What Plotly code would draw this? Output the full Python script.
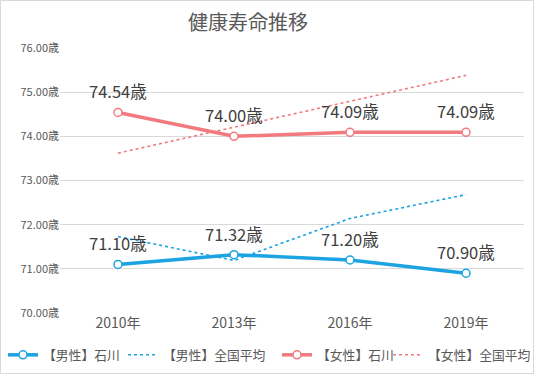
import plotly.graph_objects as go

years = ["2010年", "2013年", "2016年", "2019年"]
male_ishikawa = [71.10, 71.32, 71.20, 70.90]
male_national = [71.73, 71.19, 72.14, 72.68]
female_ishikawa = [74.54, 74.00, 74.09, 74.09]
female_national = [73.62, 74.21, 74.79, 75.38]
y_ticks = [70, 71, 72, 73, 74, 75, 76]

BLUE = "#1BA3E2"
PINK = "#F27A7E"
FONT = "Noto Sans CJK JP"

L, R, T, B = 60, 10, 48, 61
W, H = 534, 374
pw, ph = W - L - R, H - T - B

fig = go.Figure()
fig.add_trace(go.Scatter(x=years, y=male_ishikawa, name="【男性】石川", mode="lines+markers",
                         line=dict(color=BLUE, width=3.5), legend="legend",
                         marker=dict(size=8, color="white", line=dict(color=BLUE, width=1.5))))
fig.add_trace(go.Scatter(x=years, y=male_national, name="【男性】全国平均", mode="lines",
                         legend="legend2", line=dict(color=BLUE, width=1.6, dash="dot")))
fig.add_trace(go.Scatter(x=years, y=female_ishikawa, name="【女性】石川", mode="lines+markers",
                         line=dict(color=PINK, width=3.5), legend="legend3",
                         marker=dict(size=8, color="white", line=dict(color=PINK, width=1.5))))
fig.add_trace(go.Scatter(x=years, y=female_national, name="【女性】全国平均", mode="lines",
                         legend="legend4", line=dict(color=PINK, width=1.6, dash="dot")))

for series in (male_ishikawa, female_ishikawa):
    for x, v in zip(years, series):
        fig.add_annotation(x=x, y=v, text=f"{v:.2f}歳", showarrow=False, yshift=21,
                           font=dict(family=FONT, size=16.5, color="#404040"))

fig.add_shape(type="rect", xref="paper", yref="paper",
              x0=(-L + 0.5) / pw, x1=(W - L - 0.5) / pw,
              y0=(-B + 0.5) / ph, y1=(H - B - 0.5) / ph,
              line=dict(color="#D9D9D9", width=1), layer="below")


def leg(px):
    return dict(orientation="h", x=(px - L) / pw, xanchor="left", y=-42 / ph, yanchor="middle",
                font=dict(family=FONT, size=12.8, color="#595959"), itemwidth=30,
                bgcolor="rgba(0,0,0,0)", borderwidth=0)


fig.update_layout(
    width=W, height=H,
    margin=dict(l=L, r=R, t=T, b=B, autoexpand=False),
    paper_bgcolor="white", plot_bgcolor="white",
    font=dict(family=FONT, color="#595959"),
    title=dict(text="健康寿命推移", x=248 / W, xanchor="center", y=1 - 23 / H, yanchor="middle",
               font=dict(family=FONT, size=20, color="#595959")),
    xaxis=dict(type="category", range=[-0.5, 3.5], showgrid=False, zeroline=False,
               showline=False, ticks="", automargin=False, tickfont=dict(size=14, color="#595959")),
    yaxis=dict(range=[70, 76], tickvals=y_ticks, ticktext=[f"{t:.2f}歳" for t in y_ticks],
               showgrid=True, gridcolor="#D9D9D9", gridwidth=1, zeroline=False, automargin=False,
               ticks="", tickfont=dict(size=11, color="#595959")),
    showlegend=True,
    legend=leg(3),
    legend2=leg(123),
    legend3=leg(277),
    legend4=leg(388),
)

fig.write_html("out.html", config={"displayModeBar": False},
               post_script="document.body.style.margin='0';document.body.style.overflow='hidden';")
